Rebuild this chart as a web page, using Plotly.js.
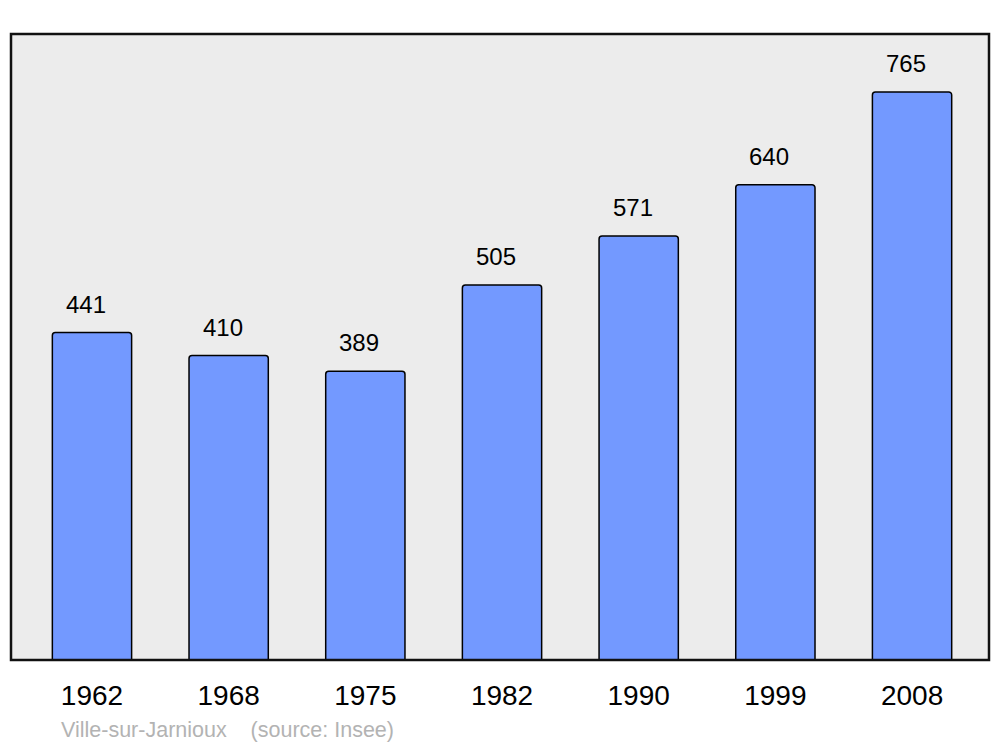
<!DOCTYPE html>
<html>
<head>
<meta charset="utf-8">
<script src="https://cdn.plot.ly/plotly-3.0.1.min.js"></script>
<style>html,body{margin:0;padding:0;background:#fff;}#chart{width:1000px;height:747px;}</style>
</head>
<body>
<div id="chart"></div>
<script>
const years = ["1962", "1968", "1975", "1982", "1990", "1999", "2008"];
const population = [441, 410, 389, 505, 571, 640, 765];
const footer = "Ville-sur-Jarnioux&nbsp;&nbsp;&nbsp;&nbsp;(source: Insee)";

const trace = {
  type: "bar",
  x: years,
  y: population,
  width: 0.58,
  marker: {color: "#7399ff", line: {color: "#000", width: 1.5}, cornerradius: 3},
  hoverinfo: "none"
};

const annotations = years.map((yr, i) => ({
  x: i - 0.045, y: population[i], xref: "x", yref: "y",
  text: String(population[i]), showarrow: false,
  yanchor: "bottom", yshift: 13,
  font: {family: "Liberation Sans, Arial, sans-serif", size: 24, color: "#000"}
}));
annotations.push({
  xref: "paper", yref: "paper", x: 0.049, y: -0.09, xanchor: "left", yanchor: "top",
  text: footer, showarrow: false,
  font: {family: "Liberation Sans, Arial, sans-serif", size: 21.5, color: "#b3b3b3"}
});

const layout = {
  width: 1000, height: 747,
  margin: {l: 11, r: 11, t: 34, b: 87},
  paper_bgcolor: "#ffffff",
  plot_bgcolor: "#ececec",
  showlegend: false,
  xaxis: {
    type: "category",
    range: [-0.5925, 6.563],
    showgrid: false, zeroline: false, showline: false,
    ticks: "outside", ticklen: 10, tickcolor: "rgba(0,0,0,0)",
    tickfont: {family: "Liberation Sans, Arial, sans-serif", size: 28, color: "#000"},
    fixedrange: true
  },
  yaxis: {
    range: [0, 843],
    showgrid: false, zeroline: false, showline: false, showticklabels: false, ticks: "",
    fixedrange: true
  },
  shapes: [{
    type: "rect", xref: "paper", yref: "paper", x0: 0, x1: 1, y0: 0, y1: 1,
    line: {color: "#111", width: 2.5}, fillcolor: "rgba(0,0,0,0)", layer: "above"
  }],
  annotations: annotations
};

Plotly.newPlot("chart", [trace], layout, {displayModeBar: false, staticPlot: true});
</script>
</body>
</html>
